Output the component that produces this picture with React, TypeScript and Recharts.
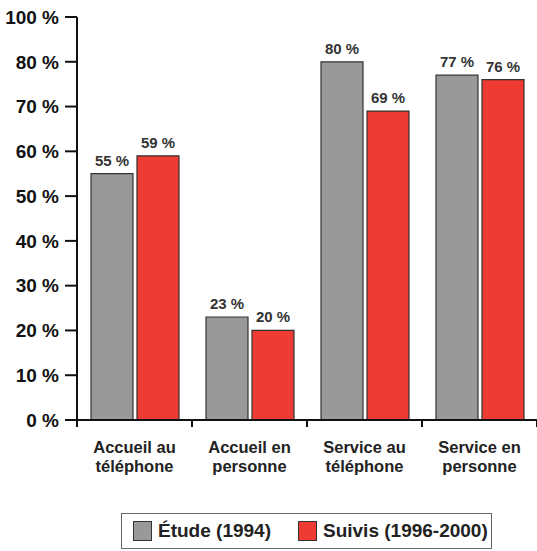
import { Bar, BarChart, LabelList, Legend, XAxis, YAxis } from "recharts";

const categories = ["Accueil au\ntéléphone", "Accueil en\npersonne", "Service au\ntéléphone", "Service en\npersonne"];
const etude = [55, 23, 80, 77];
const suivis = [59, 20, 69, 76];
const seriesNames = ["Étude (1994)", "Suivis (1996-2000)"];
const yTicks = [0, 10, 20, 30, 40, 50, 60, 70, 80, 90];
const yTickLabels = ["0 %", "10 %", "20 %", "30 %", "40 %", "50 %", "60 %", "70 %", "80 %", "100 %"];

const data = categories.map((cat, i) => ({ cat, etude: etude[i], suivis: suivis[i] }));

const FONT = '"Liberation Sans", Arial, Helvetica, sans-serif';
const GRAY = "#999999";
const RED = "#ee3b33";
const X_TICK = 7;

function CategoryTick(props: any) {
  const { x, y, payload, index, visibleTicksCount } = props;
  const half = payload?.offset ?? 0;
  const axisY = y - X_TICK;
  const lines = String(payload.value).split("\n");
  return (
    <g>
      <line x1={x - half} x2={x - half} y1={axisY} y2={axisY + X_TICK} stroke="#111" strokeWidth={2} />
      {index === visibleTicksCount - 1 && (
        <line x1={x + half} x2={x + half} y1={axisY} y2={axisY + X_TICK} stroke="#111" strokeWidth={2} />
      )}
      <text x={x} y={y} textAnchor="middle" fontFamily={FONT} fontWeight="bold" fontSize={16.5} fill="#222">
        {lines.map((l, i) => (
          <tspan key={i} x={x} dy={i === 0 ? 26 : 18.6}>
            {l}
          </tspan>
        ))}
      </text>
    </g>
  );
}

function LegendBox() {
  const items = [
    { name: seriesNames[0], color: GRAY },
    { name: seriesNames[1], color: RED },
  ];
  return (
    <div
      style={{
        boxSizing: "border-box",
        height: 36,
        border: "1.5px solid #666",
        display: "flex",
        alignItems: "center",
        paddingLeft: 11,
        gap: 27,
        fontFamily: FONT,
        fontWeight: "bold",
        fontSize: 19,
        color: "#222",
      }}
    >
      {items.map((it) => (
        <div key={it.name} style={{ display: "flex", alignItems: "center", gap: 6 }}>
          <span style={{ display: "inline-block", boxSizing: "border-box", width: 19, height: 20, background: it.color, border: "1px solid #333" }} />
          <span>{it.name}</span>
        </div>
      ))}
    </div>
  );
}

export default function App() {
  return (
    <div style={{ position: "absolute", left: 0, top: 0, background: "#fff" }}>
      <BarChart
        width={537}
        height={551}
        data={data}
        margin={{ top: 17, right: 0, left: 0, bottom: 2 }}
        barCategoryGap={14}
        barGap={4}
      >
        <XAxis
          dataKey="cat"
          interval={0}
          height={93}
          tickLine={false}
          tickSize={X_TICK}
          tickMargin={0}
          axisLine={{ stroke: "#111", strokeWidth: 2 }}
          tick={<CategoryTick />}
        />
        <YAxis
          width={77}
          domain={[0, 90]}
          ticks={yTicks}
          interval={0}
          tickSize={12}
          tickMargin={6}
          axisLine={{ stroke: "#111", strokeWidth: 2 }}
          tickLine={{ stroke: "#111", strokeWidth: 2 }}
          tick={{ fontFamily: FONT, fontWeight: "bold", fontSize: 19, fill: "#111" }}
          tickFormatter={(v: number) => yTickLabels[yTicks.indexOf(v)] ?? `${v} %`}
        />
        <Legend
          verticalAlign="bottom"
          content={<LegendBox />}
          wrapperStyle={{ left: 121, width: 371 }}
        />
        <Bar dataKey="etude" name={seriesNames[0]} fill={GRAY} stroke="#333" strokeWidth={1.2} isAnimationActive={false}>
          <LabelList
            dataKey="etude"
            position="top"
            offset={8}
            formatter={(v: any) => `${v} %`}
            style={{ fontFamily: FONT, fontWeight: "bold", fontSize: 15, fill: "#333" }}
          />
        </Bar>
        <Bar dataKey="suivis" name={seriesNames[1]} fill={RED} stroke="#333" strokeWidth={1.2} isAnimationActive={false}>
          <LabelList
            dataKey="suivis"
            position="top"
            offset={8}
            formatter={(v: any) => `${v} %`}
            style={{ fontFamily: FONT, fontWeight: "bold", fontSize: 15, fill: "#333" }}
          />
        </Bar>
      </BarChart>
    </div>
  );
}
